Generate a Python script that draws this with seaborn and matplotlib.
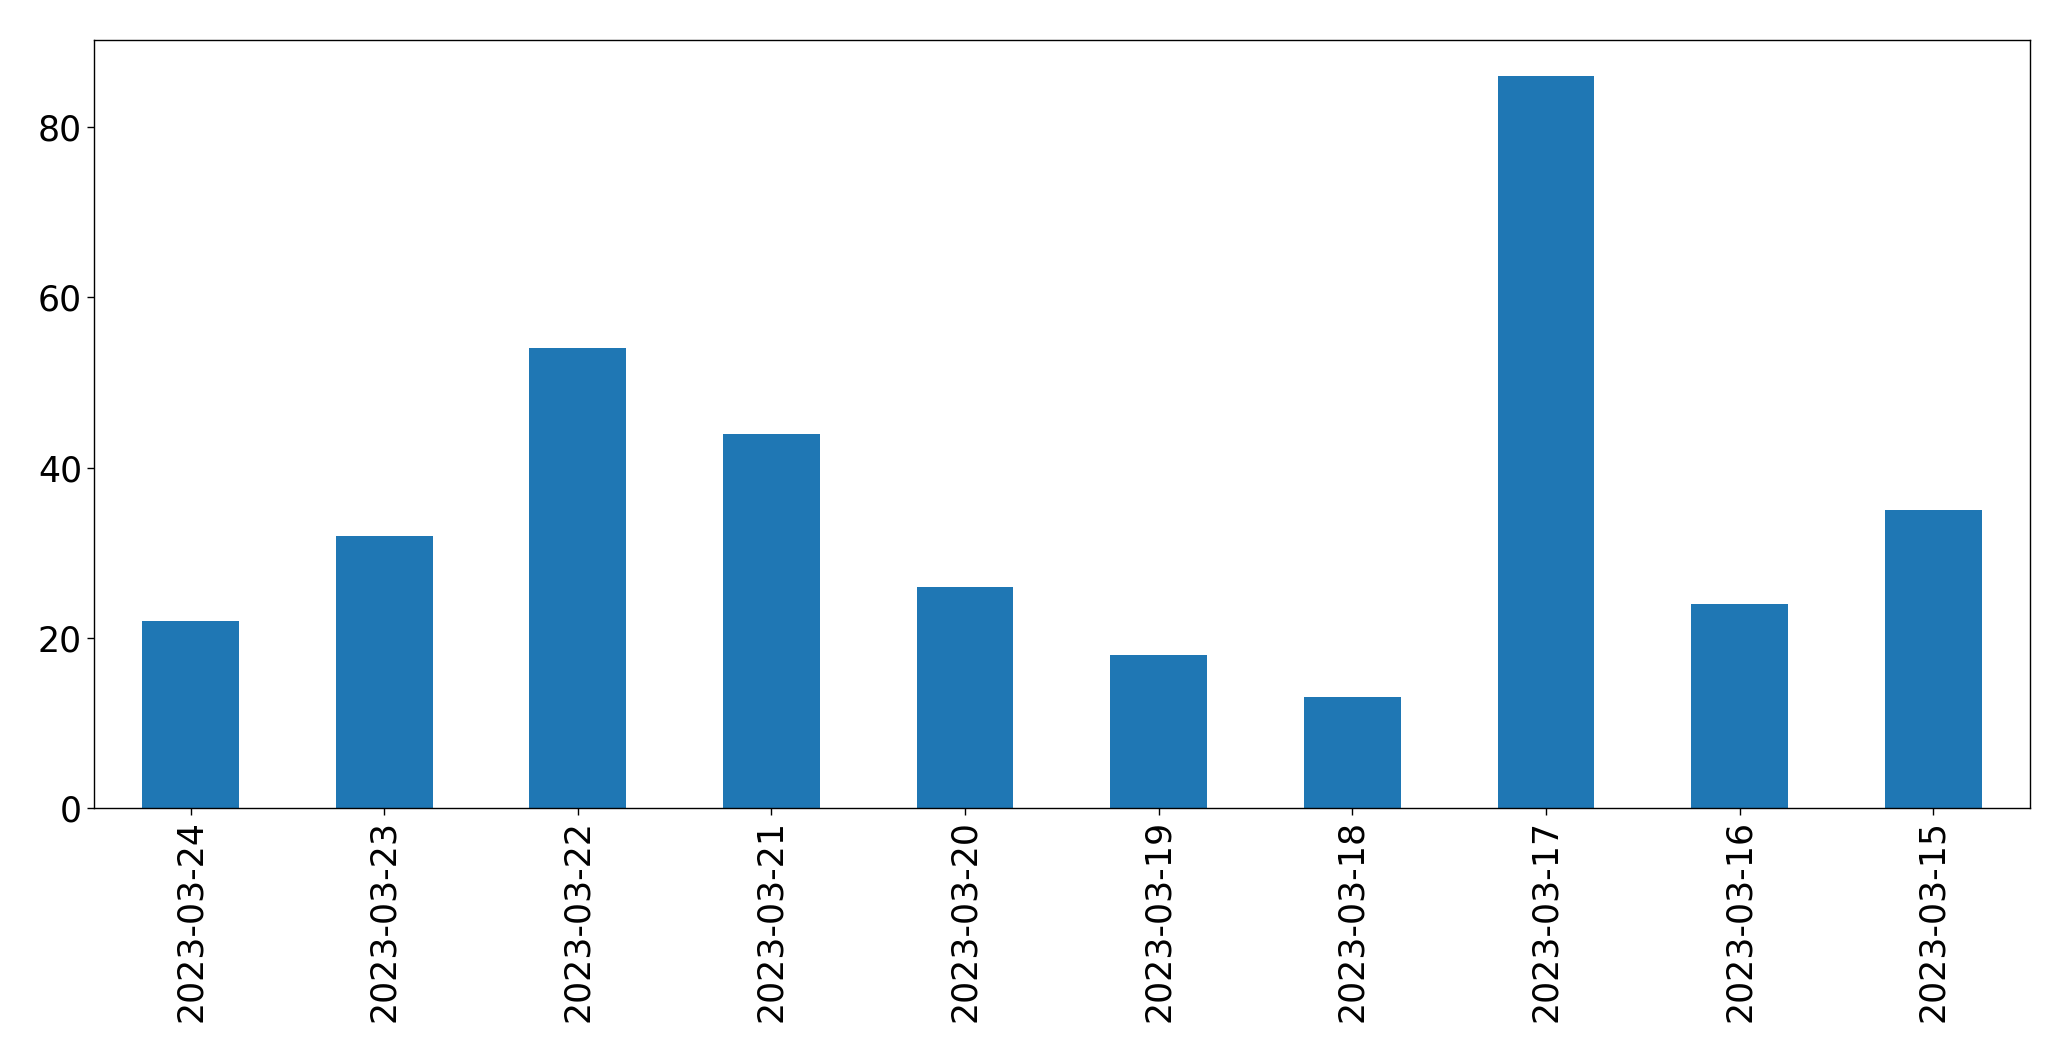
import matplotlib
matplotlib.use("Agg")
import matplotlib.pyplot as plt
import seaborn as sns
import pandas as pd

dates = ["2023-03-24", "2023-03-23", "2023-03-22", "2023-03-21", "2023-03-20",
         "2023-03-19", "2023-03-18", "2023-03-17", "2023-03-16", "2023-03-15"]
counts = [22, 32, 54, 44, 26, 18, 13, 86, 24, 35]

df = pd.DataFrame({"date": dates, "count": counts})

sns.set_style("ticks")
plt.rcParams['font.family'] = ['DejaVu Sans']
plt.rcParams['text.color'] = 'black'
plt.rcParams['xtick.color'] = 'black'
plt.rcParams['ytick.color'] = 'black'
plt.rcParams['axes.edgecolor'] = 'black'

fig = plt.figure(figsize=(20.71, 10.61), dpi=100)
ax = fig.add_axes([93.8/2071, 1 - 808/1061, (2030 - 93.8)/2071, (808 - 39.6)/1061])
sns.barplot(data=df, x="date", y="count", order=dates, color="#1f77b4",
            saturation=1, width=0.5, linewidth=0, ax=ax)
ax.set_xlim(-0.5, len(dates) - 0.5)
ax.set_ylim(0, max(counts) * 1.05)
ax.set_yticks([0, 20, 40, 60, 80])
ax.set_xlabel("")
ax.set_ylabel("")
ax.tick_params(axis="both", labelsize=25, length=5, width=1,
               colors="black", labelcolor="black")
ax.tick_params(axis="x", labelrotation=90)
for s in ax.spines.values():
    s.set_visible(True)
    s.set_linewidth(1)
    s.set_color("black")
fig.savefig("out.png", dpi=100, facecolor="white")
